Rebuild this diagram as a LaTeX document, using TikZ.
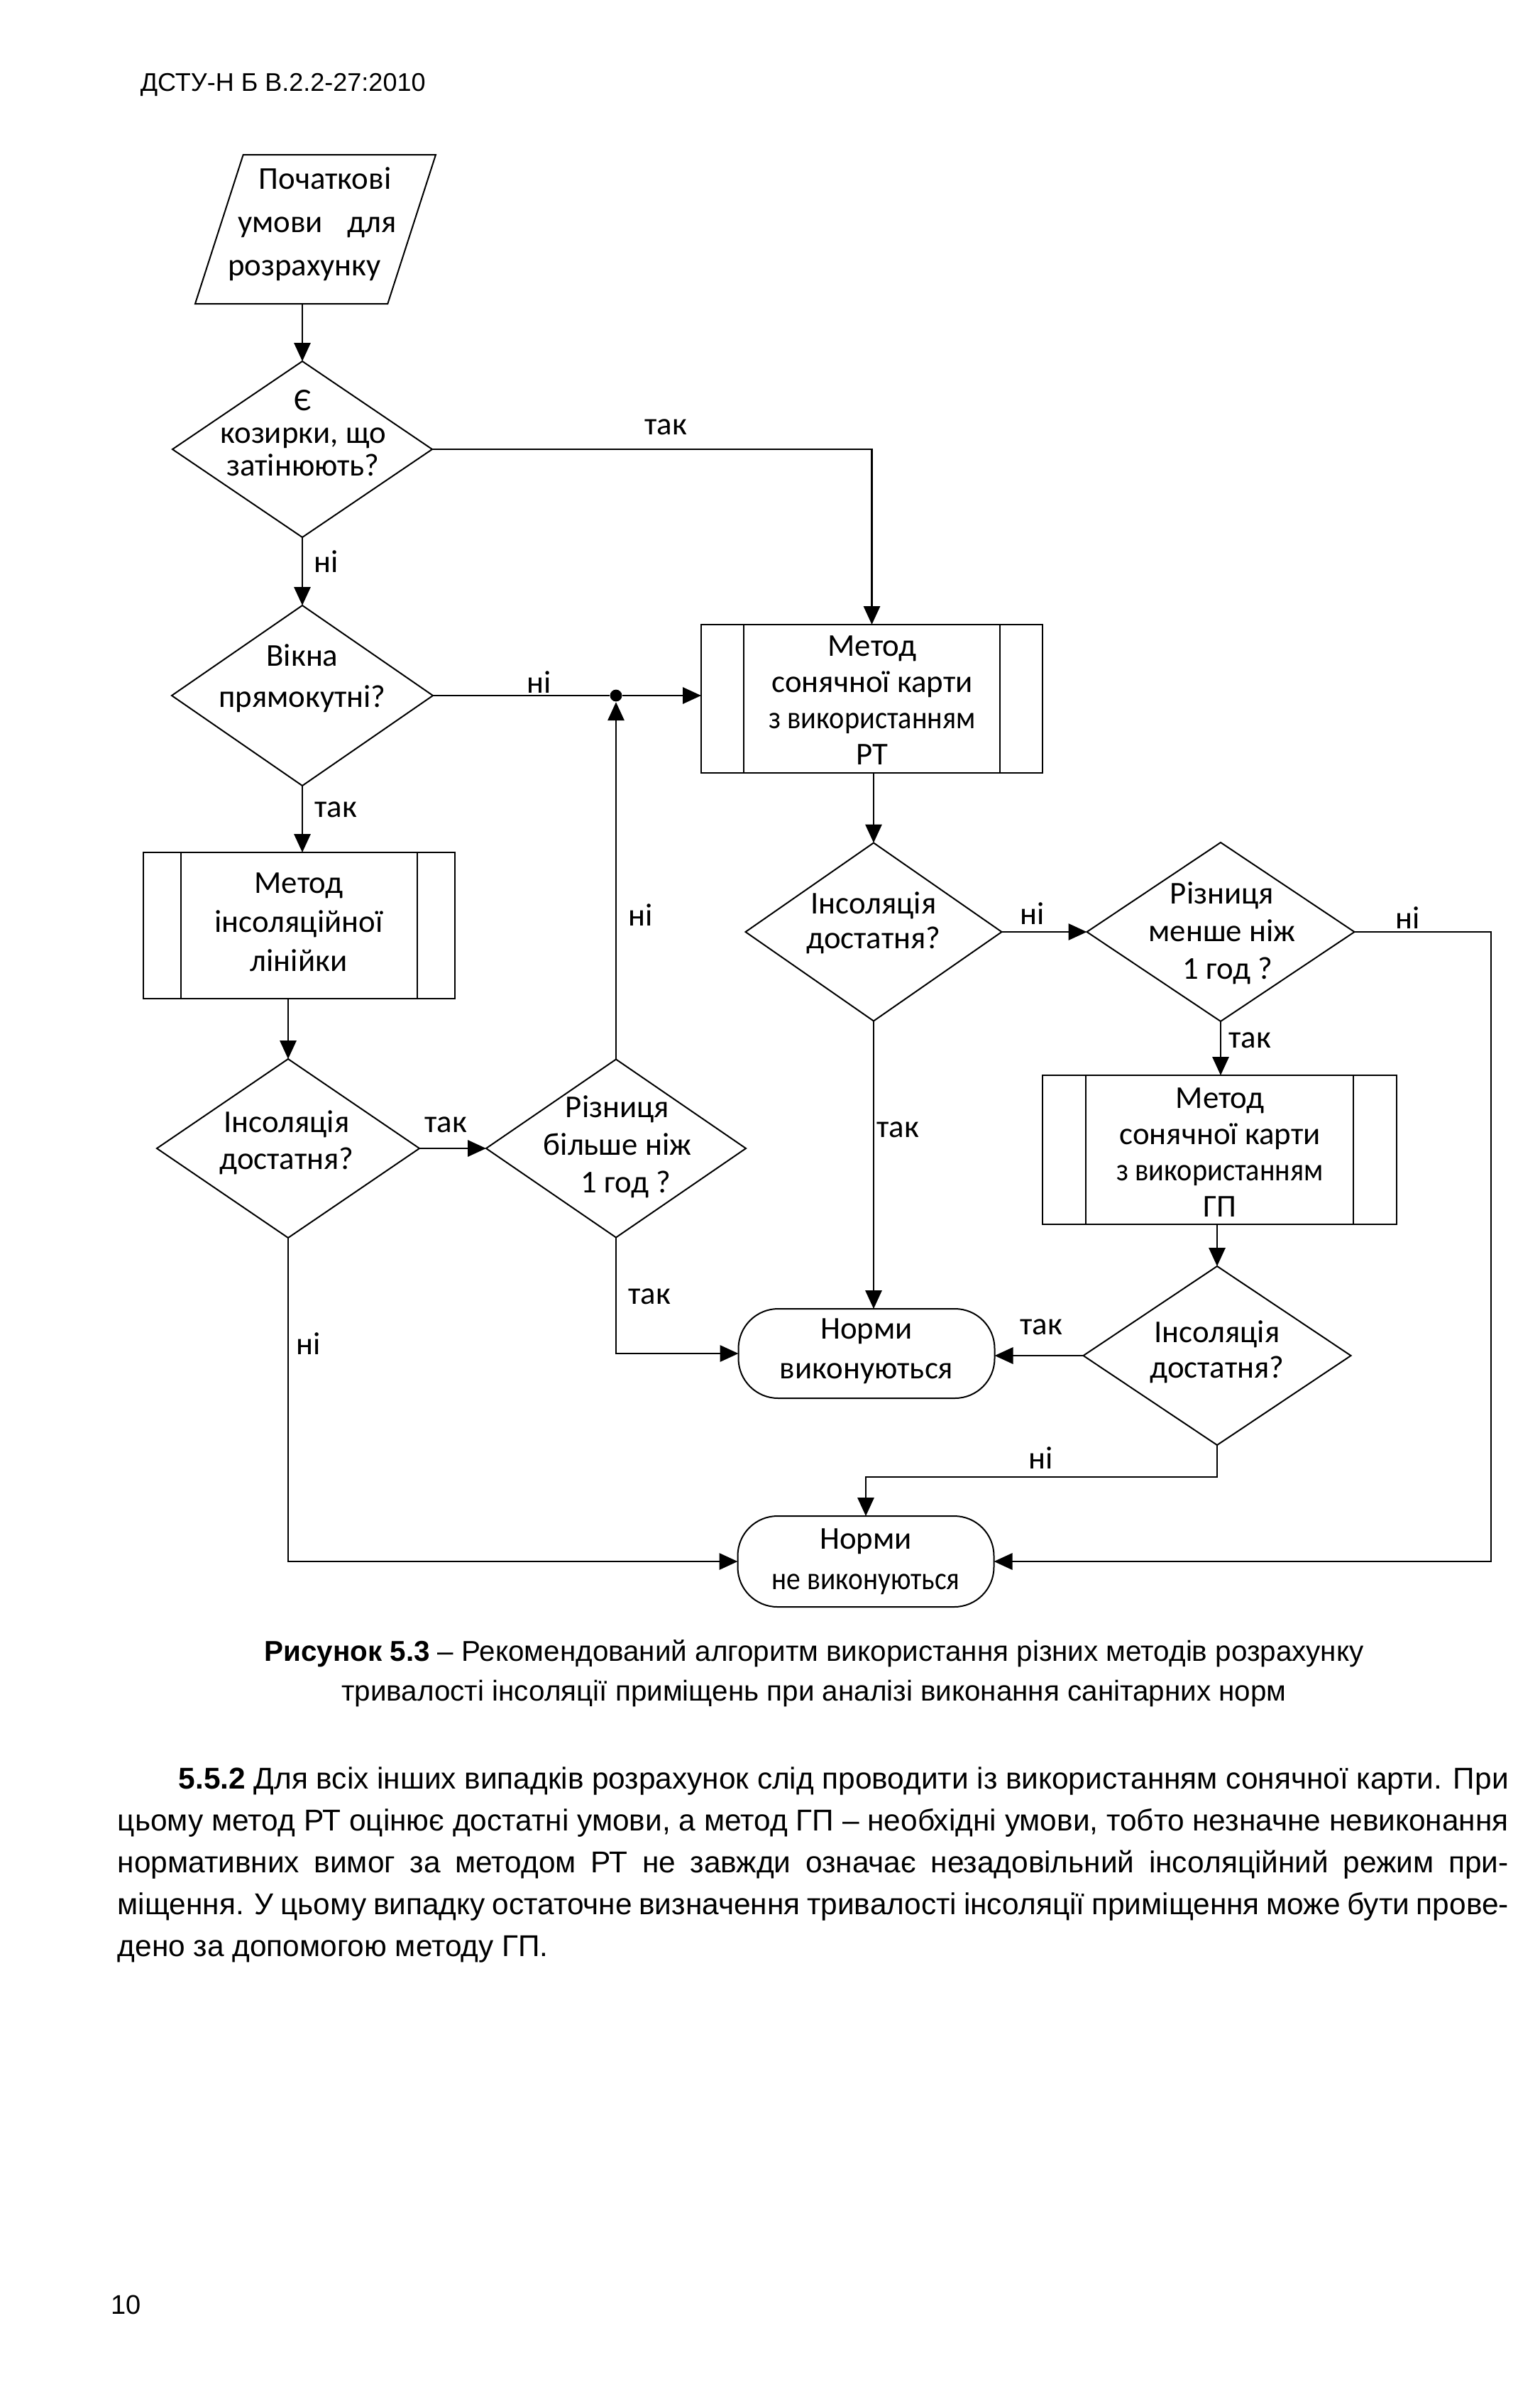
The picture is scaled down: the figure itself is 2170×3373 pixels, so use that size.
\documentclass[tikz,border=0pt]{standalone}
\usepackage{fontspec}
\usepackage{graphicx}
\setmainfont{Liberation Sans}
\newfontfamily\calib{Carlito}
\usetikzlibrary{shapes.geometric,arrows.meta}
\begin{document}
\begin{tikzpicture}[x=0.25pt,y=-0.25pt,
  shp/.style={draw, line width=0.5pt, inner sep=0pt, outer sep=0pt},
  dia/.style={shp, diamond},
  proc/.style={shp, rectangle, path picture={
     \draw[line width=0.5pt] ([xshift=#1]path picture bounding box.north west) -- ([xshift=#1]path picture bounding box.south west);
     \draw[line width=0.5pt] ([xshift=-#1]path picture bounding box.north east) -- ([xshift=-#1]path picture bounding box.south east);}},
  term/.style={shp, rectangle, rounded corners=14pt},
  io/.style={shp, trapezium, trapezium left angle=71.6, trapezium right angle=108.4, trapezium stretches=true},
  txt/.style={font=\calib\fontsize{11.2}{#1}\selectfont, align=center, inner sep=0pt},
  yn/.style={font=\calib\fontsize{11.2}{13}\selectfont, inner sep=0pt},
  arr/.style={-{Triangle[length=6.5pt,width=5.8pt]}},
  conn/.style={line width=0.65pt},
  body/.style={font=\fontsize{10.6}{14.7}\selectfont, inner sep=0pt, align=left},
]
\fill[white] (0,0) rectangle (2170,3373);
\path[use as bounding box] (0,0) rectangle (2170,3373);

% header
\node[font=\fontsize{9}{11}\selectfont, inner sep=0pt, anchor=base west] (hdr) at (197,128) {ДСТУ-Н Б В.2.2-27:2010};

% shapes
\node[io, minimum width=84.75pt, minimum height=52.5pt] (p1) at (444.5,323) {\rule{1pt}{0pt}\rule{0pt}{1pt}};
\node[txt=15.25pt] (p1t) at (447,316) {\hspace*{5.5pt}Початкові\\умови\hspace{6pt} для\\розрахунку\hspace*{9pt}};

\node[dia, minimum width=91.5pt, minimum height=62pt] (d1) at (426,633) {};
\node[txt=11.5pt] (d1t) at (427,610) {Є\\козирки, що\\затінюють?};

\node[dia, minimum width=92pt, minimum height=63.5pt] (d2) at (426,980) {};
\node[txt=14.5pt] (d2t) at (426,956) {Вікна\\прямокутні?};

\node[proc=13.25pt, minimum width=109.75pt, minimum height=51.5pt] (li) at (421.5,1304) {};
\node[txt=13.75pt] (lit) at (421,1299) {Метод\\інсоляційної\\лінійки};

\node[dia, minimum width=92.5pt, minimum height=63pt] (d3) at (406,1618) {};
\node[txt=13pt] (d3t) at (404,1610) {Інсоляція\\достатня?};

\node[dia, minimum width=91.5pt, minimum height=62.75pt] (d6) at (868,1618) {};
\node[txt=13.25pt] (d6t) at (870,1616) {Різниця\\більше ніж\\\hspace*{6pt}1 год ?};

\node[circle, fill, inner sep=0pt, minimum size=4.2pt] (j) at (868,980) {};

\node[proc=15pt, minimum width=120.25pt, minimum height=52.25pt] (rt) at (1228.5,984.5) {};
\node[txt=12.75pt] (rtt) at (1229,987) {Метод\\сонячної карти\\\scalebox{0.9}[1]{з використанням}\\РТ};

\node[dia, minimum width=90.25pt, minimum height=62.75pt] (d4) at (1231,1313) {};
\node[txt=12.25pt] (d4t) at (1231,1300) {Інсоляція\\достатня?};

\node[dia, minimum width=94.25pt, minimum height=63pt] (d5) at (1720,1313) {};
\node[txt=13.25pt] (d5t) at (1722,1315) {Різниця\\менше ніж\\\hspace*{4pt}1 год ?};

\node[proc=15.25pt, minimum width=124.75pt, minimum height=52.5pt] (gp) at (1718.5,1620) {};
\node[txt=12.75pt] (gpt) at (1719,1624) {Метод\\сонячної карти\\\scalebox{0.9}[1]{з використанням}\\ГП};

\node[dia, minimum width=94.25pt, minimum height=63pt] (d7) at (1715,1910) {};
\node[txt=12.5pt] (d7t) at (1715,1905) {Інсоляція\\достатня?};

\node[term, minimum width=90.25pt, minimum height=31.5pt] (t1) at (1221,1907) {};
\node[txt=14pt] (t1t) at (1221,1904) {Норми\\виконуються};

\node[term, minimum width=90.25pt, minimum height=32pt] (t2) at (1220,2200) {};
\node[txt=14.25pt] (t2t) at (1220,2200) {Норми\\\scalebox{0.88}[1]{не виконуються}};

\coordinate (rx) at (2101,2200);

% connectors
\draw[conn,arr] (p1.south -| d1.north) -- (d1.north);
\draw[conn,arr] (d1.east) -| (rt.north);
\node[yn] (l1) at (938,602) {так};
\draw[conn,arr] (d1.south) -- (d1.south |- d2.north);
\node[yn] (l2) at (460,791) {ні};
\draw[conn] (d2.east) -- (j);
\draw[conn,arr] (j) -- (j -| rt.west);
\node[yn] (l3) at (760,961) {ні};
\draw[conn,arr] (d2.south) -- (d2.south |- li.north);
\node[yn] (l4) at (473,1141) {так};
\draw[conn,arr] (li.south -| d3.north) -- (d3.north);
\draw[conn,arr] (d3.east) -- (d6.west);
\node[yn] (l5) at (628,1585) {так};
\draw[conn,arr] (d6.north) -- (j.south);
\node[yn] (l6) at (903,1289) {ні};
\draw[conn,arr] (d6.south) |- (t1.west);
\node[yn] (l7) at (915,1827) {так};
\draw[conn,arr] (d3.south) |- (t2.west);
\node[yn] (l8) at (435,1893) {ні};
\draw[conn,arr] (rt.south -| d4.north) -- (d4.north);
\draw[conn,arr] (d4.south) -- (d4.south |- t1.north);
\node[yn] (l9) at (1265,1592) {так};
\draw[conn,arr] (d4.east) -- (d5.west);
\node[yn] (l10) at (1455,1287) {ні};
\draw[conn,arr] (d5.east) -| (rx) -- (t2.east);
\node[yn] (l11) at (1984,1293) {ні};
\draw[conn,arr] (d5.south) -- (d5.south |- gp.north);
\node[yn] (l12) at (1761,1466) {так};
\draw[conn,arr] (gp.south -| d7.north) -- (d7.north);
\draw[conn,arr] (d7.west) -- (d7.west -| t1.east);
\node[yn] (l13) at (1467,1870) {так};
\draw[conn,arr] (d7.south) -- ++(0,45) -| (t2.north);
\node[yn] (l14) at (1467,2054) {ні};

% caption
\node[font=\fontsize{10.1}{14}\selectfont, inner sep=0pt, align=center] (cap) at (1147,2358)
  {\textbf{Рисунок 5.3} – Рекомендований алгоритм використання різних методів розрахунку\\
   тривалості інсоляції приміщень при аналізі виконання санітарних норм};

% body text
\node[body, anchor=base west] (txt) at (165,2756) {%
\hspace*{21.5pt}\makebox[468.5pt][s]{\textbf{5.5.2} Для всіх інших випадків розрахунок слід проводити із використанням сонячної карти. При}\\
\makebox[490pt][s]{цьому метод РТ оцінює достатні умови, а метод ГП – необхідні умови, тобто незначне невиконання}\\
\makebox[490pt][s]{нормативних вимог за методом РТ не завжди означає незадовільний інсоляційний режим при-}\\
\makebox[490pt][s]{міщення. У цьому випадку остаточне визначення тривалості інсоляції приміщення може бути прове-}\\
дено за допомогою методу ГП.};

\node[font=\fontsize{9.5}{11}\selectfont, inner sep=0pt, anchor=west] (pg) at (156,3247) {10};
\end{tikzpicture}
\end{document}
